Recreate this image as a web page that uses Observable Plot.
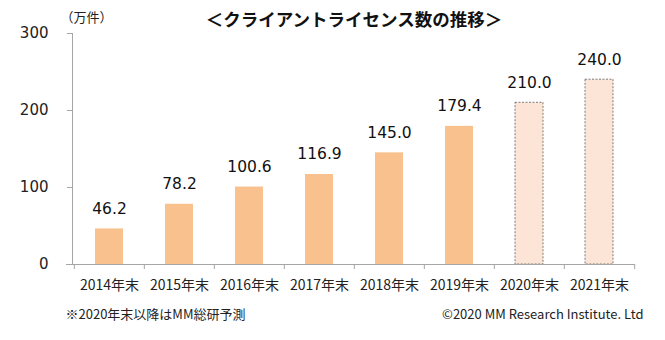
<!DOCTYPE html>
<html>
<head>
<meta charset="utf-8">
<script src="https://cdn.jsdelivr.net/npm/d3@7"></script>
<script src="https://cdn.jsdelivr.net/npm/@observablehq/plot@0.6"></script>
<style>
  html, body { margin: 0; padding: 0; background: #fff; }
  #chart svg { display: block; }
</style>
</head>
<body>
<div id="chart"></div>
<script>
const years = ["2014年末", "2015年末", "2016年末", "2017年末", "2018年末", "2019年末", "2020年末", "2021年末"];
const values = [46.2, 78.2, 100.6, 116.9, 145.0, 179.4, 210.0, 240.0];
const isForecast = [false, false, false, false, false, false, true, true];
const yTicks = [0, 100, 200, 300];
const titleText = "＜クライアントライセンス数の推移＞";
const unitText = "（万件）";
const noteText = "※2020年末以降はMM総研予測";
const creditText = "©2020 MM Research Institute. Ltd";

const data = years.map((year, i) => ({year, value: values[i], forecast: isForecast[i]}));
const actual = data.filter(d => !d.forecast);
const forecast = data.filter(d => d.forecast);

const W = 665, H = 340, ML = 72, MR = 30, MT = 33, MB = 76;
const step = (W - ML - MR) / years.length;
const gray = "#a6a6a6";
const jp = "'Noto Sans CJK JP', 'Noto Sans', sans-serif";
const num = "'DejaVu Sans', Verdana, sans-serif";

const chart = Plot.plot({
  width: W,
  height: H,
  marginLeft: ML,
  marginRight: MR,
  marginTop: MT,
  marginBottom: MB,
  style: {background: "#fff", color: "#222"},
  x: {domain: years, paddingInner: 0.6, paddingOuter: 0.3, axis: null, label: null},
  y: {domain: [0, 300], axis: null, label: null},
  marks: [
    Plot.frame({anchor: "left", stroke: gray}),
    Plot.axisY(yTicks, {anchor: "left", label: null, tickSize: 5, tickPadding: 19, stroke: gray, fill: "#222", fontSize: 15, fontFamily: num}),
    Plot.axisX(years, {anchor: "bottom", label: null, tickSize: 5, tickFormat: () => "", dx: -step / 2, stroke: gray}),
    Plot.axisX([years[years.length - 1]], {anchor: "bottom", label: null, tickSize: 5, tickFormat: () => "", dx: step / 2, stroke: gray}),
    Plot.axisX(years, {anchor: "bottom", label: null, tickSize: 0, tickPadding: 16, fill: "#222", fontSize: 14, fontFamily: jp}),
    Plot.barY(actual, {x: "year", y: "value", fill: "#f8c18e"}),
    Plot.barY(forecast, {x: "year", y: "value", fill: "#fce5d6", stroke: "#6e6e6e", strokeWidth: 0.9, strokeDasharray: "2,1.5"}),
    Plot.ruleY([0], {stroke: gray, insetLeft: -6}),
    Plot.text(data, {x: "year", y: "value", text: d => d.value.toFixed(1), dy: -20, lineAnchor: "middle", fontSize: 15.5, fontFamily: num, fill: "#111"}),
    Plot.text([titleText], {frameAnchor: "top", dy: -13, lineAnchor: "middle", fontSize: 17.5, fontWeight: "bold", fontFamily: jp, fill: "#111"}),
    Plot.text([unitText], {frameAnchor: "top-left", dx: -12, dy: -16, lineAnchor: "middle", textAnchor: "start", fontSize: 13, fontFamily: jp, fill: "#222"}),
    Plot.text([noteText], {frameAnchor: "bottom-left", dx: -7, dy: 50, lineAnchor: "middle", textAnchor: "start", fontSize: 13, fontFamily: jp, fill: "#222"}),
    Plot.text([creditText], {frameAnchor: "bottom-right", dx: 8, dy: 50, lineAnchor: "middle", textAnchor: "end", fontSize: 13, fontFamily: jp, fill: "#222"})
  ]
});
document.getElementById("chart").appendChild(chart);
</script>
</body>
</html>
